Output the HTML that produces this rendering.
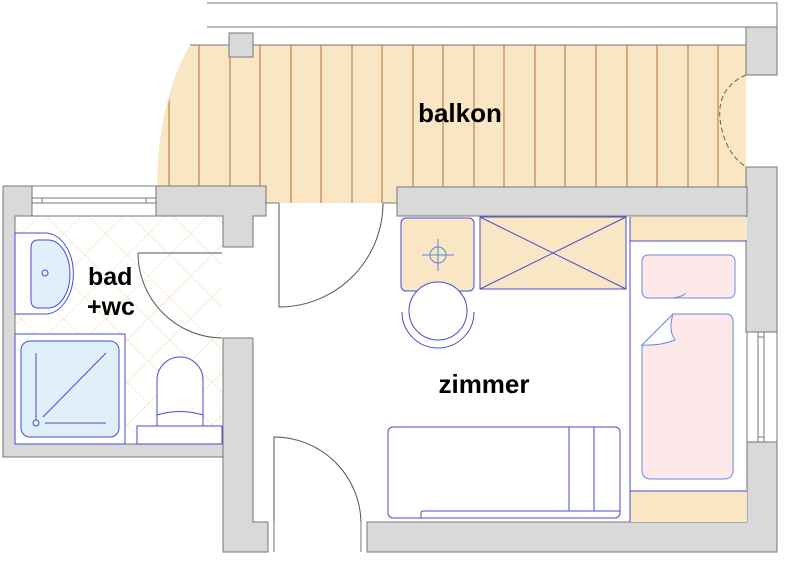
<!DOCTYPE html>
<html><head><meta charset="utf-8"><style>
html,body{margin:0;padding:0;background:#fff;}
svg{display:block;}
text{font-family:"Liberation Sans",Arial,sans-serif;font-weight:bold;fill:#000;}
</style></head><body>
<svg width="800" height="572" viewBox="0 0 800 572" xmlns="http://www.w3.org/2000/svg">
<defs>
<pattern id="tile" width="30" height="30" patternUnits="userSpaceOnUse" patternTransform="rotate(45)">
<rect width="30" height="30" fill="#fff"/>
<path d="M0 0H30M0 0V30" stroke="#f3d9a8" stroke-width="1"/>
</pattern>
<clipPath id="balc"><path d="M190 45 H746 V203 H155 Q160 100 190 45Z"/></clipPath>
</defs>

<!-- balcony rail -->
<path d="M207 3 H777 V27 M207 27 H777" fill="none" stroke="#777" stroke-width="1"/>
<!-- balcony floor -->
<path d="M190 45 H746 V187 H397 V203 H265 V187 H157 Q158 100 190 45Z" fill="#f9e6c4"/>
<g clip-path="url(#balc)" stroke="#b2733a" stroke-width="1">
<line x1="169" y1="45" x2="169" y2="187"/><line x1="199" y1="45" x2="199" y2="187"/>
<line x1="230" y1="45" x2="230" y2="187"/><line x1="260" y1="45" x2="260" y2="187"/>
<line x1="291" y1="45" x2="291" y2="203"/><line x1="321" y1="45" x2="321" y2="203"/>
<line x1="352" y1="45" x2="352" y2="203"/><line x1="382" y1="45" x2="382" y2="203"/>
<line x1="413" y1="45" x2="413" y2="187"/><line x1="443" y1="45" x2="443" y2="187"/>
<line x1="474" y1="45" x2="474" y2="187"/><line x1="504" y1="45" x2="504" y2="187"/>
<line x1="535" y1="45" x2="535" y2="187"/><line x1="565" y1="45" x2="565" y2="187"/>
<line x1="596" y1="45" x2="596" y2="187"/><line x1="627" y1="45" x2="627" y2="187"/>
<line x1="657" y1="45" x2="657" y2="187"/><line x1="688" y1="45" x2="688" y2="187"/>
<line x1="718" y1="45" x2="718" y2="187"/>
</g>
<line x1="190" y1="45" x2="746" y2="45" stroke="#777"/>
<!-- post -->
<rect x="229" y="33" width="24" height="24" fill="#d9d9d9" stroke="#777"/>
<!-- right wall balcony -->
<rect x="746" y="27" width="31" height="48" fill="#d9d9d9" stroke="#777"/>
<rect x="746" y="167" width="31" height="165" fill="#d9d9d9" stroke="#777"/>
<path d="M746 75 Q712 90 722 130 Q728 155 746 167" fill="none" stroke="#7a5a3a" stroke-dasharray="5,3"/>
<line x1="746" y1="75" x2="777" y2="75" stroke="#777"/>
<line x1="746" y1="167" x2="777" y2="167" stroke="#777"/>
<text x="460" y="122" font-size="26" text-anchor="middle">balkon</text>

<!-- bathroom -->
<rect x="15" y="216" width="208" height="228" fill="url(#tile)"/>
<path d="M3 186 H32 V216 H15 V444 H223 V457 H3Z" fill="#d9d9d9" stroke="#777"/>
<rect x="32" y="186" width="124" height="30" fill="#fff" stroke="#777"/>
<path d="M32 198 H156 M32 203 H156 M42 198 V203 M146 198 V203" stroke="#777" fill="none"/>
<path d="M156 186 H266 V216 H253 V247 H223 V216 H156Z" fill="#d9d9d9" stroke="#777"/>
<path d="M223 247 H253 M223 338 H253" stroke="#777"/>
<path d="M223 338 H253 V522 H268 V552 H223Z" fill="#d9d9d9" stroke="#777"/>
<!-- sink -->
<path d="M15 233 H45 A28 40 0 0 1 45 314 H15Z" fill="#fff" stroke="#4a4ad0"/>
<path d="M38 240 H48 A22 34 0 0 1 48 308 H38 Q31 308 31 300 V248 Q31 240 38 240Z" fill="#dff0fa" stroke="#4a4ad0"/>
<circle cx="45" cy="273" r="3" fill="none" stroke="#4a4ad0"/>
<!-- shower -->
<rect x="15" y="334" width="110" height="110" fill="#fff" stroke="#4a4ad0"/>
<rect x="21" y="341" width="98" height="96" rx="9" fill="#dff0fa" stroke="#4a4ad0"/>
<path d="M36 353 V420 M45 423 H106 M43 417 L106 353" stroke="#4a4ad0" fill="none"/>
<circle cx="36" cy="423" r="3" fill="none" stroke="#4a4ad0"/>
<!-- toilet -->
<rect x="137" y="426" width="85" height="18" fill="#fff" stroke="#4a4ad0"/>
<path d="M157 426 V380 A23 23 0 0 1 203 380 V426Z" fill="#fff" stroke="#4a4ad0"/>
<path d="M157 415 Q180 408 203 415" fill="none" stroke="#4a4ad0"/>
<!-- bath door -->
<path d="M138 253 H222 M138 253 A85 85 0 0 0 222 338" fill="none" stroke="#555"/>
<text x="88" y="285" font-size="25">bad</text>
<text x="87" y="315" font-size="25">+wc</text>

<!-- hallway doors -->
<path d="M279 203 V307 A104 104 0 0 0 383 203" fill="none" stroke="#555"/>
<path d="M265 203 H279 M383 203 H397" stroke="#777"/>
<path d="M274 552 V437 A87 87 0 0 1 361 522" fill="none" stroke="#555"/>
<path d="M268 522 V552 M274 522 V552 M361 522 V552 M367 522 V552" stroke="#777"/>

<!-- wall balcony/zimmer -->
<rect x="397" y="187" width="350" height="29" fill="#d9d9d9" stroke="#777"/>
<!-- bottom wall -->
<path d="M367 522 H747 V442 H777 V552 H367Z" fill="#d9d9d9" stroke="#777"/>
<rect x="747" y="332" width="30" height="110" fill="#fff" stroke="#777"/>
<path d="M758 332 V442 M764 332 V442 M758 337 H764 M758 437 H764" stroke="#777" fill="none"/>

<!-- zimmer furniture -->
<rect x="401" y="218" width="73" height="73" rx="5" fill="#f9e6c4" stroke="#4a4ad0"/>
<circle cx="438" cy="255" r="8" fill="none" stroke="#5a8ad8"/>
<path d="M422 255 H454 M438 239 V271" stroke="#5a8ad8"/>
<circle cx="438" cy="311" r="29" fill="#fff" stroke="#4a4ad0"/>
<path d="M402 312 A36 36 0 0 0 474 312" fill="none" stroke="#4a4ad0"/>
<rect x="480" y="217" width="146" height="72" fill="#f9e6c4" stroke="#4a4ad0"/>
<path d="M480 217 L626 289 M626 217 L480 289" stroke="#4a4ad0"/>
<rect x="630" y="217" width="117" height="24" fill="#f9e6c4"/>
<rect x="630" y="491" width="117" height="31" fill="#f9e6c4"/>
<path d="M630 217 V522 M630 241 H747 M630 491 H747" stroke="#4a4ad0" fill="none"/>
<rect x="642" y="255" width="93" height="43" rx="6" fill="#fde9ea" stroke="#6a8ad8"/>
<path d="M673 298 Q685 296 685 293" fill="none" stroke="#6a8ad8"/>
<path d="M673 314 H726 Q733 314 733 322 V470 Q733 479 724 479 H651 Q642 479 642 470 V345Z" fill="#fde9ea" stroke="#6a8ad8"/>
<path d="M642 345 L673 314 Q668 330 675 340 Q660 346 642 345Z" fill="#fff" stroke="#6a8ad8"/>
<rect x="388" y="427" width="232" height="91" rx="5" fill="#fff" stroke="#4a4ad0"/>
<path d="M569 427 V511 M594 427 V511 M421 518 V513 Q421 511 424 511 H620" stroke="#4a4ad0" fill="none"/>
<text x="484" y="393" font-size="26" text-anchor="middle">zimmer</text>
</svg>
</body></html>
